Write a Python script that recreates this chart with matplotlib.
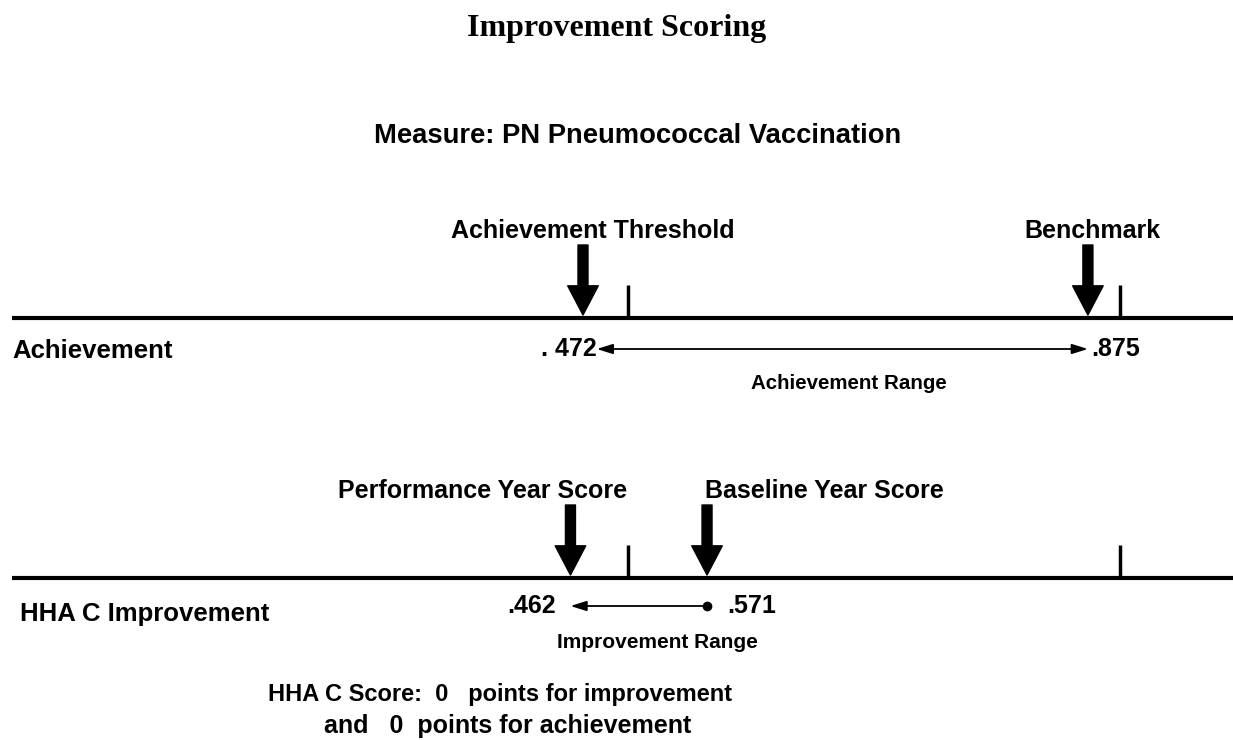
import matplotlib
matplotlib.use("Agg")
import matplotlib.pyplot as plt
from matplotlib import transforms

# chart data
title = "Improvement Scoring"
measure = "Measure: PN Pneumococcal Vaccination"
achievement_labels = ["Achievement Threshold", "Benchmark"]
achievement_values = [0.472, 0.875]
improvement_labels = ["Performance Year Score", "Baseline Year Score"]
improvement_values = [0.462, 0.571]
tick_marks = [0.508, 0.901]
points_improvement = 0
points_achievement = 0

plt.rcParams["font.family"] = ["Liberation Sans", "DejaVu Sans"]
plt.rcParams["font.weight"] = "bold"

W, H = 1233, 740
fig = plt.figure(figsize=(W / 100, H / 100), dpi=100)
ax = fig.add_axes([0, 0, 1, 1])
ax.set_xlim(0.0067, 0.9908)
ax.set_ylim(H, 0)
ax.axis("off")

# x as fraction of width, y in pixel rows
fixed = transforms.blended_transform_factory(ax.transAxes, ax.transData)
big_arrow = dict(arrowstyle="simple,head_length=1.05,head_width=1.1,tail_width=0.36",
                 color="black", shrinkA=0, shrinkB=0, mutation_scale=20)
thin_arrow = dict(arrowstyle="-|>,head_length=0.8,head_width=0.25", color="black",
                  lw=1.3, shrinkA=0, shrinkB=0, mutation_scale=12)
thin_double = dict(arrowstyle="<|-|>,head_length=0.8,head_width=0.25", color="black",
                   lw=1.3, shrinkA=0, shrinkB=0, mutation_scale=12)


def short(v):
    # 0.472 -> "472"
    return f"{v:.3f}"[2:]


def baseline(y, values, labels, label_dx):
    # main horizontal line
    ax.plot([12 / W, 1.0], [y, y], color="black", lw=3, transform=fixed,
            solid_capstyle="butt")
    for t in tick_marks:
        ax.plot([t, t], [y - 33, y], color="black", lw=2.5, solid_capstyle="butt")
    for v, lab, dx in zip(values, labels, label_dx):
        ax.annotate("", xy=(v, y - 3), xytext=(v, y - 73), arrowprops=big_arrow)
        ax.text(v + dx, y - 80, lab, ha="center", va="baseline", fontsize=18)


ax.text(0.5, 36, title, transform=fixed, ha="center", va="baseline",
        fontsize=23, family="Liberation Serif", weight="bold")
ax.text(638 / W, 143, measure, transform=fixed, ha="center", va="baseline", fontsize=19.7)

# achievement line
baseline(318, achievement_values, achievement_labels, [0.008, 0.004])
ax.text(12 / W, 358, "Achievement", transform=fixed, ha="left", va="baseline", fontsize=18.5)
y_r = 349
ax.annotate("", xy=(achievement_values[0] + 0.011, y_r), xytext=(achievement_values[1], y_r),
            arrowprops=thin_double)
ax.text(achievement_values[0] + 0.011, y_r, ". " + short(achievement_values[0]),
        ha="right", va="center", fontsize=18)
ax.text(achievement_values[1] + 0.003, y_r, "." + short(achievement_values[1]),
        ha="left", va="center", fontsize=18)
ax.text(849 / W, 389, "Achievement Range", transform=fixed, ha="center", va="baseline",
        fontsize=14.8)

# improvement line
baseline(578, improvement_values, improvement_labels, [-0.07, 0.094])
ax.text(20 / W, 621, "HHA C Improvement", transform=fixed, ha="left", va="baseline",
        fontsize=18.5)
y_i = 606
ax.annotate("", xy=(improvement_values[0], y_i), xytext=(improvement_values[1], y_i),
            arrowprops=thin_arrow)
ax.plot(improvement_values[1], y_i, "o", color="black", ms=6)
ax.text(improvement_values[0] - 0.012, y_i, "." + short(improvement_values[0]),
        ha="right", va="center", fontsize=18)
ax.text(improvement_values[1] + 0.016, y_i, "." + short(improvement_values[1]),
        ha="left", va="center", fontsize=18)
ax.text(657 / W, 648, "Improvement Range", transform=fixed, ha="center", va="baseline",
        fontsize=15)

ax.text(500 / W, 701, f"HHA C Score:  {points_improvement}   points for improvement",
        transform=fixed, ha="center", va="baseline", fontsize=17)
ax.text(508 / W, 733, f"and   {points_achievement}  points for achievement",
        transform=fixed, ha="center", va="baseline", fontsize=18)

fig.savefig("out.png", dpi=100)
